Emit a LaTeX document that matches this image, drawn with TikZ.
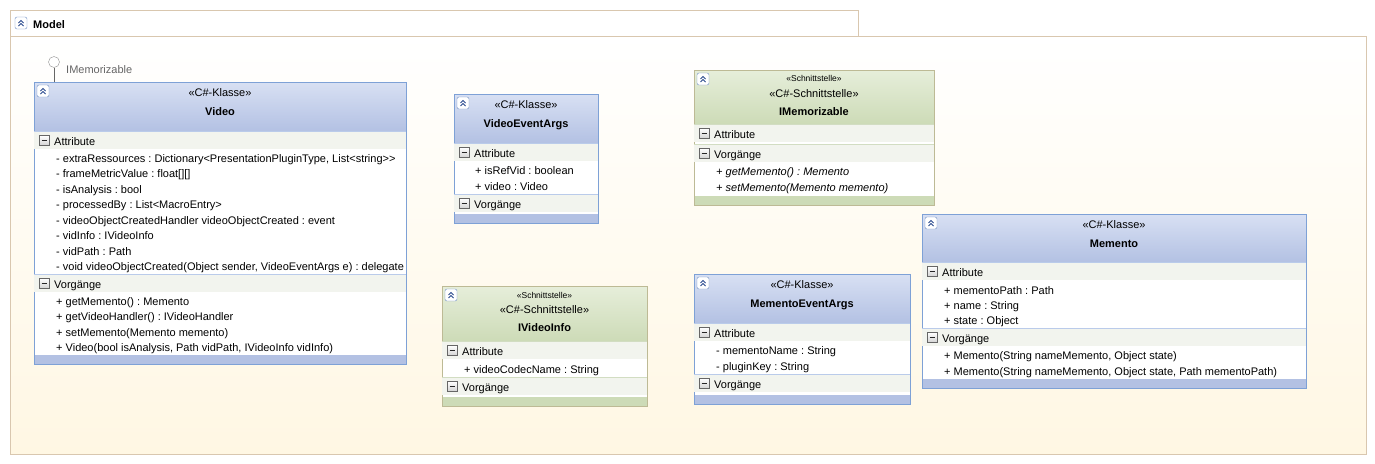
\documentclass[tikz,border=0pt]{standalone}
\usepackage{fontspec}
\setmainfont{Liberation Sans}
\usetikzlibrary{positioning}
\frenchspacing

\definecolor{clsTop}{HTML}{D8E0F3}
\definecolor{clsBot}{HTML}{B3C1E3}
\definecolor{clsLine}{HTML}{7EA1D6}
\definecolor{clsSep}{HTML}{BACBEA}
\definecolor{ifcTop}{HTML}{E6EEDA}
\definecolor{ifcBot}{HTML}{CDDBB7}
\definecolor{ifcLine}{HTML}{BDBA95}
\definecolor{ifcSep}{HTML}{D2DDC2}
\definecolor{band}{HTML}{F2F4EE}
\definecolor{frameLine}{HTML}{D9C7AF}
\definecolor{frameBot}{HTML}{FFF7E3}
\definecolor{btnLine}{HTML}{6F8FC4}
\definecolor{btnMark}{HTML}{2B4A8E}

\tikzset{
  member/.style={anchor=base west, inner sep=0pt, font=\fontsize{11}{13}\selectfont},
  stereo/.style={anchor=base, inner sep=0pt, font=\fontsize{11}{13}\selectfont},
  stereosmall/.style={anchor=base, inner sep=0pt, font=\fontsize{8.5}{10}\selectfont},
  classname/.style={anchor=base, inner sep=0pt, font=\fontsize{11}{13}\selectfont\bfseries},
  hidebtn/.pic={
    \draw[btnLine, fill=white, rounded corners=2pt] (0,0) rectangle (12,12);
    \draw[btnMark, line width=1pt] (3.5,6) -- (6,3.5) -- (8.5,6) (3.5,9) -- (6,6.5) -- (8.5,9);
  },
  foldbtn/.pic={
    \draw[gray!80!black, top color=white, bottom color=gray!35] (0,0) rectangle (10,10);
    \draw[black!85, line width=1pt] (2.5,5) -- (7.5,5);
  }
}

% box of one class: scheme, name, left, top, right, bottom, header bottom
\newcommand{\umlbox}[7]{%
  \shade[top color=#1Top, bottom color=#1Bot] (#3,#4) rectangle (#5,#7);
  \fill[white] (#3,#7) rectangle (#5,#6);
  \fill[#1Bot] (#3,#6-9) rectangle (#5,#6);
  \node[draw=#1Line, line width=1pt, anchor=north west, minimum width=#5-#3,
        minimum height=#6-#4, inner sep=0pt, outer sep=0pt] (#2) at (#3,#4) {};
  \pic at (#3+3,#4+3) {hidebtn};
}
% compartment header: scheme, name, left, right, top, title
\newcommand{\umlpart}[6]{%
  \fill[band] (#3,#5+0.5) rectangle (#4,#5+18);
  \draw[#1Sep] (#3,#5) -- (#4,#5);
  \pic at (#3+5,#5+4.5) {foldbtn};
  \node[member] (#2) at (#3+20,#5+14) {#6};
}

\begin{document}
\begin{tikzpicture}[x=1pt, y=-1pt]
\useasboundingbox (0,0) rectangle (1375,463);
\fill[white] (0,0) rectangle (1375,463);

% package frame
\draw[frameLine, fill=white] (10,10) rectangle (858,36);
\shade[top color=white, bottom color=frameBot, draw=frameLine] (10,36) rectangle (1366,454);
\pic at (15,17) {hidebtn};
\node[classname, anchor=base west] (model) at (33,28) {Model};

% Video
\umlbox{cls}{video}{34}{82}{406}{364}{131}
\node[stereo] (videost) at (220,96) {«C\#-Klasse»};
\node[classname] (videoname) at (220,115) {Video};
\umlpart{cls}{videoattr}{34}{406}{131}{Attribute}
\foreach \txt [count=\i from 0] in {%
    {- extraRessources : Dictionary<PresentationPluginType, List<string>{}>},
    {- frameMetricValue : float[][]},
    {- isAnalysis : bool},
    {- processedBy : List<MacroEntry>},
    {- videoObjectCreatedHandler videoObjectCreated : event},
    {- vidInfo : IVideoInfo},
    {- vidPath : Path},
    {- void videoObjectCreated(Object sender, VideoEventArgs e) : delegate}}
  \node[member] (va\i) at (56,162+15.5*\i) {\txt};
\umlpart{cls}{videoops}{34}{406}{274}{Vorgänge}
\foreach \txt [count=\i from 0] in {%
    {+ getMemento() : Memento},
    {+ getVideoHandler() : IVideoHandler},
    {+ setMemento(Memento memento)},
    {+ Video(bool isAnalysis, Path vidPath, IVideoInfo vidInfo)}}
  \node[member] (vo\i) at (56,305+15.6*\i) {\txt};

% provided interface
\node[draw=gray!85, fill=white, circle, minimum size=11pt, inner sep=0pt] (lolli) at (54,62) {};
\draw[gray!80!black] (lolli) -- (lolli |- video.north);
\node[member, text=gray!80!black] (lollilabel) at (66,73) {IMemorizable};

% VideoEventArgs
\umlbox{cls}{vea}{454}{94}{598}{223}{143}
\node[stereo] (veast) at (526,108) {«C\#-Klasse»};
\node[classname] (veaname) at (526,127) {VideoEventArgs};
\umlpart{cls}{veaattr}{454}{598}{143}{Attribute}
\node[member] (vea0) at (475,174) {+ isRefVid : boolean};
\node[member] (vea1) at (475,190) {+ video : Video};
\umlpart{cls}{veaops}{454}{598}{194}{Vorgänge}

% IMemorizable
\umlbox{ifc}{imem}{694}{70}{934}{205}{124}
\node[stereosmall] (imemst1) at (814,81) {«Schnittstelle»};
\node[stereo] (imemst2) at (814,97) {«C\#-Schnittstelle»};
\node[classname] (imemname) at (814,115) {IMemorizable};
\umlpart{ifc}{imemattr}{694}{934}{124}{Attribute}
\umlpart{ifc}{imemops}{694}{934}{144}{Vorgänge}
\node[member, font=\fontsize{11}{13}\selectfont\itshape] (imem0) at (716,175) {+ getMemento() : Memento};
\node[member, font=\fontsize{11}{13}\selectfont\itshape] (imem1) at (716,191) {+ setMemento(Memento memento)};

% IVideoInfo
\umlbox{ifc}{ivi}{442}{286}{647}{406}{341}
\node[stereosmall] (ivist1) at (544.5,298) {«Schnittstelle»};
\node[stereo] (ivist2) at (544.5,313) {«C\#-Schnittstelle»};
\node[classname] (iviname) at (544.5,331) {IVideoInfo};
\umlpart{ifc}{iviattr}{442}{647}{341}{Attribute}
\node[member] (ivi0) at (464,373) {+ videoCodecName : String};
\umlpart{ifc}{iviops}{442}{647}{377}{Vorgänge}

% MementoEventArgs
\umlbox{cls}{mea}{694}{274}{910}{404}{323}
\node[stereo] (meast) at (802,288) {«C\#-Klasse»};
\node[classname] (meaname) at (802,307) {MementoEventArgs};
\umlpart{cls}{meaattr}{694}{910}{323}{Attribute}
\node[member] (mea0) at (716,354) {- mementoName : String};
\node[member] (mea1) at (716,370) {- pluginKey : String};
\umlpart{cls}{meaops}{694}{910}{374}{Vorgänge}

% Memento
\umlbox{cls}{mem}{922}{214}{1306}{388}{262}
\node[stereo] (memst) at (1114,228) {«C\#-Klasse»};
\node[classname] (memname) at (1114,247) {Memento};
\umlpart{cls}{memattr}{922}{1306}{262}{Attribute}
\foreach \txt [count=\i from 0] in {{+ mementoPath : Path}, {+ name : String}, {+ state : Object}}
  \node[member] (ma\i) at (944,294+15*\i) {\txt};
\umlpart{cls}{memops}{922}{1306}{328}{Vorgänge}
\node[member] (mo0) at (944,359) {+ Memento(String nameMemento, Object state)};
\node[member] (mo1) at (944,375) {+ Memento(String nameMemento, Object state, Path mementoPath)};
\end{tikzpicture}
\end{document}
